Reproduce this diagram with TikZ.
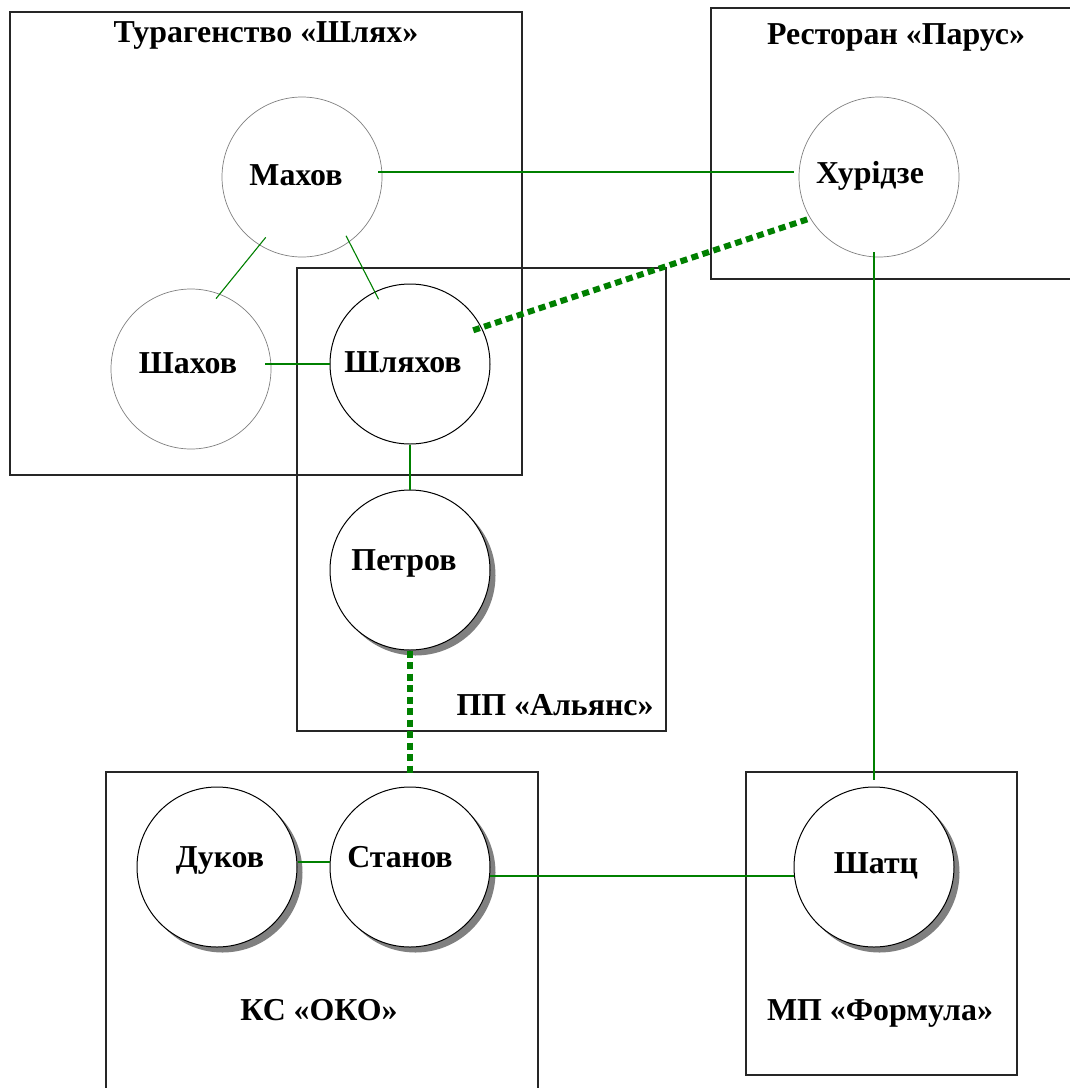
\documentclass[tikz,border=0pt]{standalone}
\usepackage{fontspec}
\setmainfont{Liberation Serif}
\usetikzlibrary{shadows,calc}
\definecolor{lg}{RGB}{0,128,0}
\begin{document}
\begin{tikzpicture}[x=1bp,y=-1bp,
  every node/.style={font=\fontsize{32}{38}\selectfont\bfseries},
  boxline/.style={draw=black!85, line width=1.1bp},
  pcirc/.style={circle, minimum size=160bp, inner sep=0pt, fill=white},
  thinc/.style={pcirc, draw=black!50, line width=0.7bp},
  boldc/.style={pcirc, draw=black, line width=1bp},
  shadc/.style={boldc, drop shadow={shadow xshift=5.5bp, shadow yshift=-5.5bp, fill=black!50, opacity=1}},
  link/.style={draw=lg, line width=1.1bp},
  strong/.style={draw=lg, line width=6bp, dash pattern=on 7bp off 4.5bp},
  lbl/.style={anchor=base, inner sep=0pt}]
\useasboundingbox (0,0) rectangle (1070,1088);
\fill[white] (0,0) rectangle (1070,1088);

% boxes
\draw[boxline] (10,12) rectangle (522,475);
\draw[boxline] (1078,8) -- (711,8) -- (711,279) -- (1078,279);
\draw[boxline] (297,268) rectangle (666,731);
\draw[boxline] (106,1095) -- (106,772) -- (538,772) -- (538,1095);
\draw[boxline] (746,772) rectangle (1017,1075);

% titles
\node[lbl] (tTur) at (266,42) {Турагенство «Шлях»};
\node[lbl] (tPar) at (896,44) {Ресторан «Парус»};
\node[lbl] (tAl)  at (555,715) {ПП «Альянс»};
\node[lbl] (tOko) at (319,1020) {КС «ОКО»};
\node[lbl] (tFor) at (880,1020) {МП «Формула»};

% circles
\node[thinc] (mahov)     at (302,177) {};
\node[thinc] (shahov)    at (191,369) {};
\node[boldc] (shlyakhov) at (410,364) {};
\node[thinc] (khuridze)  at (879,177) {};
\node[shadc] (petrov)    at (410,570) {};
\node[shadc] (dukov)     at (217,867) {};
\node[shadc] (stanov)    at (410,867) {};
\node[shadc] (shatc)     at (874,867) {};

% connectors
\draw[link] ([xshift=-4bp,yshift=5bp]mahov.east) -- ([xshift=-5bp,yshift=5bp]khuridze.west);
\draw[link, shorten <=-10bp, shorten >=-6bp] (mahov.238) -- (shahov.69);
\draw[link, shorten <=-7bp, shorten >=-8.5bp] (mahov.306) -- (shlyakhov.116);
\draw[link, shorten >=-6bp] (shlyakhov.west) -- (shlyakhov.west -| shahov.east);
\draw[link] (shlyakhov.south) -- (petrov.north);
\draw[link, shorten <=-5bp, shorten >=7bp] (shatc.north |- khuridze.south) -- (shatc.north);
\draw[link] ([yshift=5bp]dukov.east) -- ([yshift=5bp]stanov.west);
\draw[link] ([xshift=-0.5bp,yshift=-9bp]stanov.east) -- ([xshift=0.5bp,yshift=-9bp]shatc.west);
\draw[strong, shorten <=-9bp] (shlyakhov.27) -- (khuridze.211);
\draw[strong, shorten >=10bp] (petrov.south) -- (stanov.north);

% circle labels
\node[lbl] (mahovT)     at (296,185.7) {Махов};
\node[lbl] (shahovT)    at (188,373) {Шахов};
\node[lbl] (shlyakhovT) at (403,372) {Шляхов};
\node[lbl] (khuridzeT)  at (870,183) {Хурідзе};
\node[lbl] (petrovT)    at (404,570) {Петров};
\node[lbl] (dukovT)     at (220,867) {Дуков};
\node[lbl] (stanovT)    at (400,867) {Станов};
\node[lbl] (shatcT)     at (876,873) {Шатц};
\end{tikzpicture}
\end{document}
